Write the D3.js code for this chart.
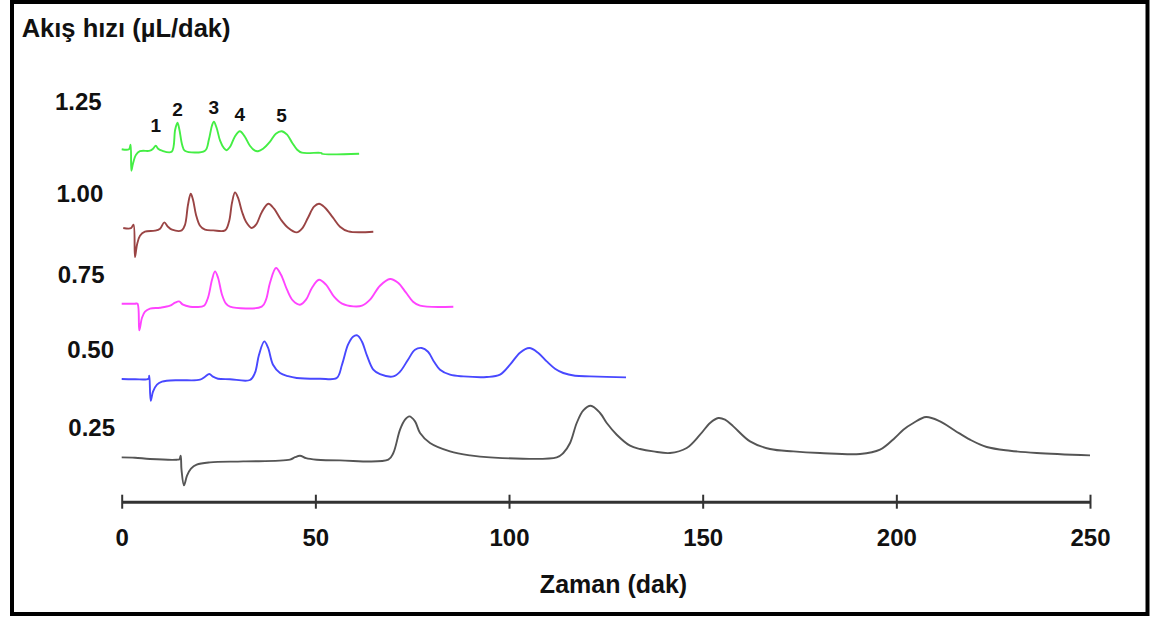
<!DOCTYPE html>
<html>
<head>
<meta charset="utf-8">
<script src="https://cdn.jsdelivr.net/npm/d3@7"></script>
<style>
  body { margin: 0; background: #fff; }
  text { font-family: "Liberation Sans", Arial, sans-serif; font-weight: bold; fill: #111; }
</style>
</head>
<body>
<svg id="chart" width="1156" height="619"></svg>
<script>
// flow rates (uL/min), top to bottom
const flowRates = ["1.25", "1.00", "0.75", "0.50", "0.25"];
// detector baseline of each trace on the stacked signal axis
const baselines = [352, 271, 195, 123, 43];
const traceColors = ["#44ee44", "#9a4444", "#ff44ff", "#4848ff", "#555555"];
const xTicks = [0, 50, 100, 150, 200, 250];
const peakNames = ["1", "2", "3", "4", "5"];
const peakTimes = [8.8, 14.4, 23.8, 30.5, 41.3];

// [time (min), signal relative to baseline]
const trace125 = [[0,0.5],[1.9,0.5],[2.3,5],[2.5,-21],[2.9,-14],[3.7,-5],[4.7,-1.5],[7.3,-1],[8.1,1],[8.8,4],
  [9.4,1],[10.4,-1],[12.9,-2],[13.8,20],[14.4,27],[14.9,20],[15.6,5],[16.3,-1],[21.5,-1],[22.5,10],[23.3,24],
  [23.8,28],[24.5,22],[25.4,9],[26.4,1.5],[27.1,-0.5],[28,3],[29.2,13],[30.5,18.5],[31.8,13],[33.1,4],[34.4,-1],
  [35.2,-1.5],[36.5,1],[38.3,8],[39.8,16],[41.3,18.5],[42.7,15],[44,7],[45.3,0],[46.5,-3],[51.6,-3.3],[51.7,-4],[61.3,-4]];
const trace100 = [[0.4,2.7],[2.4,2.5],[3.05,6],[3.43,-26.3],[3.95,-14],[4.72,-5],[6.0,-1],[8.6,0],[9.9,2],[11.0,8.3],
  [11.95,4],[13.0,1],[15.5,0.3],[16.35,6],[17.12,26],[17.82,37],[18.41,31],[19.18,16],[20.22,5],[21.51,1],[23.65,0.3],
  [26.67,0.3],[27.7,9],[28.48,28],[29.25,38.3],[30.03,33],[31.06,19],[32.09,9],[33.57,2.7],[34.68,6],[36.23,19],
  [37.85,27],[39.33,22],[41.13,11],[42.94,3],[45.18,-1.7],[46.55,2],[48.1,13],[49.65,24],[50.94,27],[52.49,23],
  [54.55,13],[56.36,4],[58.51,-0.7],[64.96,-1]];
const trace075 = [[0,3],[3.43,3],[4.08,3],[4.54,-23.7],[5.24,-11],[6.02,-5],[7.31,-2],[9.89,-1],[12.47,1],[13.76,4],
  [14.79,5.3],[15.83,2],[17.63,0],[19.36,-0.3],[21.25,1],[22.28,9],[23.32,27],[24.09,35.3],[24.87,29],[25.9,12],
  [26.93,3],[27.96,0],[36.15,0],[37.26,7],[38.29,24],[39.84,38.7],[41.13,32],[42.68,17],[44.23,6],[46.04,2],
  [47.59,7],[49.14,19],[50.94,27],[52.75,22],[54.82,10],[56.89,3],[59.8,0.3],[62.05,1],[64.12,7],[66.69,21],
  [69.28,27.7],[71.34,24],[73.41,14],[75.22,5],[77.03,1],[85.62,0]];
const trace050 = [[0,-0.3],[3.43,-0.5],[6.92,0],[7.13,3],[7.49,-22],[8.08,-13],[9.11,-6],[10.41,-3],[11.62,-2],
  [15.05,-1.5],[20.22,-1],[21.51,2],[22.62,4.7],[23.57,2],[24.86,0],[27.96,-0.5],[33.13,-1.3],[34.42,6],[35.45,24],
  [36.82,37.3],[37.78,31],[39.07,14],[40.88,5.7],[42.94,2.5],[45.18,0.7],[51.2,0],[55.51,0.7],[56.88,14],[58.43,34],
  [59.72,42],[60.83,43.3],[62.04,37],[63.33,23],[64.96,9],[66.69,4.5],[70.13,2.3],[71.86,7],[73.92,19],[75.73,29],
  [77.46,30.7],[79.09,27],[80.64,17],[82.19,9],[84.77,4],[88.2,2.3],[94.24,1.7],[97.68,4],[100.26,14],[102.84,26],
  [105.24,30.7],[107.49,26],[109.73,17.3],[111.88,10],[114.02,5.7],[117.04,3],[120.91,2.3],[130.2,1.3]];
const trace025 = [[0,1.3],[3.43,1],[7.31,-0.3],[14.2,-1],[14.92,-0.5],[15.23,3],[15.44,-11],[16.09,-26.7],[16.86,-17],
  [17.89,-10],[19.36,-6],[22.8,-3.7],[31.4,-2.7],[43.46,-1],[44.75,1.5],[46.04,3],[47.59,0.5],[50.35,-1],[56.36,-1.7],
  [68.84,-1],[70.13,5.7],[71.86,29],[73.15,39],[74.26,42.3],[75.73,37.3],[77.03,25.7],[79.6,15.7],[84.77,7.3],
  [89.93,3.3],[95.1,1.3],[112.32,1.3],[114.02,5.7],[115.76,15.7],[117.48,35.7],[119.18,48.3],[121.1,53],[123.5,45.7],
  [125.23,35.7],[127.81,24],[131.25,13],[133.83,9.7],[137.26,7.3],[141.57,5.7],[145.88,10.7],[149.32,24],[151.9,35.7],
  [154.04,40.7],[155.77,39],[157.91,32.3],[162.23,17.3],[167.39,9.7],[173.41,7.3],[180.3,5.7],[190.63,4.7],
  [195.79,9],[199.67,21],[201.81,29],[204.4,35.7],[207.67,41.7],[211.28,37.3],[215.16,28],[219.03,19],[223.34,11.7],
  [229.35,8],[236.25,5.7],[250,3.3]];
const traces = [trace125, trace100, trace075, trace050, trace025];

const svg = d3.select("#chart");

var x = d3.scaleLinear().domain([0, 250]).range([121.7, 1090]);
var y = d3.scaleLinear().domain([0, 400]).range([501.7, 101.7]);

// outer frame
svg.append("rect")
  .attr("x", 12).attr("y", 2)
  .attr("width", 1135.5).attr("height", 612)
  .attr("fill", "none").attr("stroke", "#000").attr("stroke-width", 4);

// chromatograms
traces.forEach(function(tr, i) {
  var line = d3.line()
    .x(function(d) { return x(d[0]); })
    .y(function(d) { return y(baselines[i] + d[1]); })
    .curve(d3.curveCatmullRom.alpha(0.5));
  svg.append("path")
    .datum(tr)
    .attr("fill", "none")
    .attr("stroke", traceColors[i])
    .attr("stroke-width", 1.9)
    .attr("stroke-linejoin", "round")
    .attr("d", line);
});

// peak numbers above the 1.25 trace
var labelGap = [14, 7, 8, 10, 9];
peakNames.forEach(function(name, i) {
  var near = trace125.filter(function(d) { return Math.abs(d[0] - peakTimes[i]) < 1; });
  var top = d3.max(near, function(d) { return d[1]; });
  svg.append("text")
    .attr("x", x(peakTimes[i]))
    .attr("y", y(baselines[0] + top) - labelGap[i])
    .attr("text-anchor", "middle")
    .attr("font-size", "19px")
    .text(name);
});

// flow rate labels
var rateRight = [101.7, 103.3, 104.5, 114, 115];
var rateBase = [110, 202, 283, 358, 436];
flowRates.forEach(function(r, i) {
  svg.append("text")
    .attr("x", rateRight[i])
    .attr("y", rateBase[i])
    .attr("text-anchor", "end")
    .attr("font-size", "24px")
    .text(r);
});

// x axis
var axis = svg.append("g")
  .attr("transform", "translate(0," + y(0) + ")")
  .call(d3.axisBottom(x).tickValues(xTicks).tickSize(7).tickSizeOuter(0));
axis.select(".domain").attr("stroke", "#333").attr("stroke-width", 3);
axis.selectAll(".tick line").attr("y1", -7).attr("stroke", "#333").attr("stroke-width", 2);
axis.selectAll(".tick text")
  .attr("y", 44).attr("dy", 0)
  .attr("font-size", "24px");

// titles
svg.append("text")
  .attr("x", 21.7).attr("y", 37)
  .attr("font-size", "25.5px")
  .text("Akış hızı (µL/dak)");

svg.append("text")
  .attr("x", 613.5).attr("y", 593)
  .attr("text-anchor", "middle")
  .attr("font-size", "25px")
  .text("Zaman (dak)");
</script>
</body>
</html>
